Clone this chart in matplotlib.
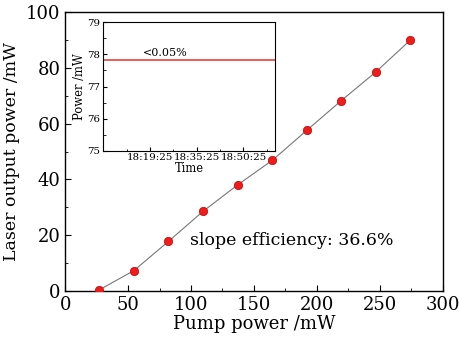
import numpy as np
import matplotlib
matplotlib.use("Agg")
import matplotlib.pyplot as plt
from matplotlib.ticker import MultipleLocator

plt.rcParams['font.family'] = ['DejaVu Serif']
plt.rcParams['mathtext.fontset'] = 'dejavuserif'

# main data: pump power vs laser output power
pump = [27, 54.5, 82, 109.5, 137, 164.5, 192, 219.5, 247, 274.5]
laser = [0.3, 7.2, 17.7, 28.5, 38.0, 46.8, 57.6, 68.3, 78.6, 90.1]

# inset data: stability (minutes after 18:03:25)
t_min = [0, 58.7]
p_inset = [77.84, 77.84]
inset_ticks = [16, 32, 48]
inset_ticklabels = ['18:19:25', '18:35:25', '18:50:25']

fig = plt.figure(figsize=(4.6, 3.44), dpi=100)
ax = fig.add_axes([0.142, 0.155, 0.820, 0.809])

ax.plot(pump, laser, c='#777777', lw=0.8, zorder=2)
ax.plot(pump, laser, 'o', ms=6, mfc='#f01c1c', mec='#c00000', mew=0.5, zorder=3)

ax.set_xlim(0, 300)
ax.set_ylim(0, 100)
ax.xaxis.set_major_locator(MultipleLocator(50))
ax.xaxis.set_minor_locator(MultipleLocator(25))
ax.yaxis.set_major_locator(MultipleLocator(20))
ax.yaxis.set_minor_locator(MultipleLocator(10))
ax.tick_params(which='both', direction='in', labelsize=13)
ax.tick_params(which='major', length=4)
ax.tick_params(which='minor', length=2.5)
ax.set_xlabel('Pump power /mW', fontsize=13, labelpad=1)
ax.set_ylabel('Laser output power /mW', fontsize=12.5, labelpad=4)
for s in ax.spines.values():
    s.set_linewidth(1.0)

ax.text(99, 18.2, 'slope efficiency: 36.6%', fontsize=12.5, va='center')

ins = fig.add_axes([0.2246, 0.562, 0.3726, 0.373])
ins.plot(t_min, p_inset, c='#e8413c', lw=1.2)
ins.set_xlim(0, 58.7)
ins.set_ylim(75, 79)
ins.set_xticks(inset_ticks)
ins.set_xticklabels(inset_ticklabels)
ins.xaxis.set_minor_locator(MultipleLocator(8))
ins.yaxis.set_major_locator(MultipleLocator(1))
ins.yaxis.set_minor_locator(MultipleLocator(0.5))
ins.tick_params(which='both', direction='in', labelsize=7.4, pad=2)
ins.tick_params(which='major', length=3)
ins.tick_params(which='minor', length=1.8)
ins.set_xlabel('Time', fontsize=8.3, labelpad=0)
ins.set_ylabel('Power /mW', fontsize=8.3, labelpad=1)
ins.text(0.36, 77.9, '<0.05%', fontsize=8, ha='center', va='bottom',
         transform=ins.get_yaxis_transform())

fig.savefig('out.png', dpi=100)
